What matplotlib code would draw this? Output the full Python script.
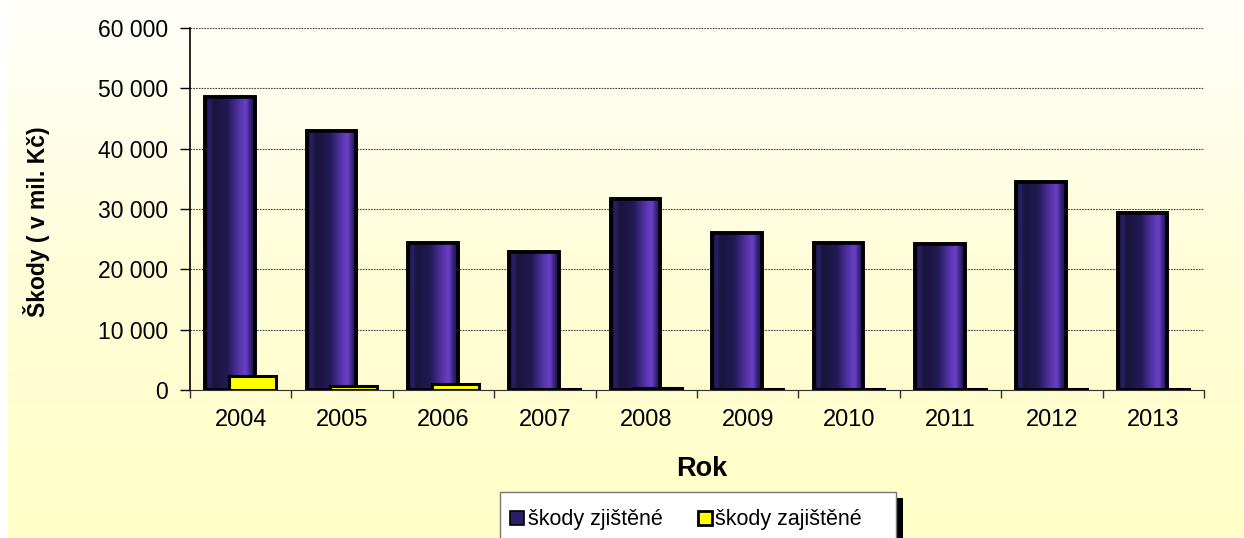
#!/usr/bin/env python3
"""Detected vs. secured damages per year (bar chart, Excel-like styling)."""

import matplotlib

matplotlib.use("Agg")
import matplotlib.pyplot as plt
import numpy as np
from matplotlib.colors import LinearSegmentedColormap
from matplotlib.patches import Rectangle
from matplotlib.ticker import FuncFormatter, MultipleLocator

YEARS = ["2004", "2005", "2006", "2007", "2008", "2009", "2010", "2011", "2012", "2013"]
SKODY_ZJISTENE = [48500, 43000, 24400, 22900, 31700, 26000, 24300, 24150, 34400, 29300]
SKODY_ZAJISTENE = [2300, 700, 1000, 200, 250, 200, 200, 180, 180, 200]
SERIES_LABELS = ["škody zjištěné", "škody zajištěné"]

plt.rcParams["font.family"] = ["Liberation Sans", "DejaVu Sans"]

W, H = 1244, 538
fig = plt.figure(figsize=(W / 100, H / 100), dpi=100)

# background gradient: white at top to pale yellow at bottom
bg = fig.add_axes([8 / W, 0, 1 - 8 / W, 1], zorder=-10)
grad = np.linspace(0, 1, 256).reshape(-1, 1)
bg_cmap = LinearSegmentedColormap.from_list("bg", ["#fffffa", "#fffdd8", "#ffffc6"])
bg.imshow(grad, aspect="auto", cmap=bg_cmap, extent=[0, 1, 0, 1], origin="upper")
bg.set_axis_off()

ax = fig.add_axes([190 / W, 1 - 390 / H, (1204 - 190) / W, (390 - 28) / H])
ax.set_facecolor("none")

x = np.arange(len(YEARS))
bars = ax.bar(x - 0.105, SKODY_ZJISTENE, width=0.49, color="#261c5c",
              edgecolor="black", linewidth=2.6, zorder=3)

bar_cmap = LinearSegmentedColormap.from_list(
    "bar",
    [(0.0, "#120c26"), (0.08, "#2a2068"), (0.18, "#1a143c"), (0.45, "#221a55"),
     (0.72, "#5a36b2"), (0.82, "#6a40c4"), (0.9, "#3a2585"), (1.0, "#160f36")],
)
hgrad = np.linspace(0, 1, 128).reshape(1, -1)
for bar in bars:
    x0, y0 = bar.get_x(), bar.get_y()
    w, h = bar.get_width(), bar.get_height()
    ax.imshow(hgrad, aspect="auto", cmap=bar_cmap, extent=[x0, x0 + w, y0, y0 + h],
              zorder=3.1, interpolation="bilinear")
    ax.add_patch(Rectangle((x0, y0), w, h, fill=False, edgecolor="black",
                           linewidth=2.6, zorder=3.2))

ax.bar(x + 0.116, SKODY_ZAJISTENE, width=0.465, color="#ffff00",
       edgecolor="black", linewidth=2.2, zorder=4)

ax.set_xlim(-0.5, len(YEARS) - 0.5)
ax.set_ylim(0, 60000)
ax.yaxis.set_major_locator(MultipleLocator(10000))
ax.yaxis.set_major_formatter(FuncFormatter(lambda v, _: f"{int(v):,}".replace(",", " ")))
ax.set_xticks(x, YEARS)
ax.set_xticks(np.arange(-0.5, len(YEARS)), minor=True)
ax.tick_params(axis="x", which="major", length=0, pad=14, labelsize=17)
ax.tick_params(axis="x", which="minor", length=6, width=1, color="#333333", direction="out")
ax.tick_params(axis="y", length=7, width=1, pad=9, labelsize=16.5, direction="out")

ax.grid(True, axis="y", color="#444444", linestyle=(0, (1.5, 1)), linewidth=0.8, zorder=0)
ax.spines["top"].set_visible(False)
ax.spines["right"].set_visible(False)
ax.spines["left"].set_linewidth(1.2)
ax.spines["bottom"].set_color("#333333")

fig.text(37 / W, 1 - 222 / H, "Škody ( v mil. Kč)", rotation=90, ha="center",
         va="center", fontsize=16.5, fontweight="bold")
fig.text(702 / W, 1 - 469 / H, "Rok", ha="center", va="center",
         fontsize=19.5, fontweight="bold")

# legend box with a black shadow on the right
fig.add_artist(Rectangle((896 / W, -0.02), 7 / W, 1 - 498 / H + 0.02,
                         transform=fig.transFigure, facecolor="black",
                         edgecolor="none", zorder=5))
fig.add_artist(Rectangle((500 / W, -0.02), 396 / W, 1 - 492 / H + 0.02,
                         transform=fig.transFigure, facecolor="white",
                         edgecolor="#777777", linewidth=1, zorder=6))

handles = [
    Rectangle((0, 0), 1, 1, facecolor="#2a1f66", edgecolor="black", linewidth=1.2),
    Rectangle((0, 0), 1, 1, facecolor="#ffff00", edgecolor="black", linewidth=2.0),
]
leg = fig.legend(handles, SERIES_LABELS, loc="center", ncol=2,
                 bbox_to_anchor=(686 / W, 1 - 520 / H), frameon=False,
                 fontsize=15.5, handlelength=0.65, handleheight=0.65,
                 handletextpad=0.15, columnspacing=1.65)
leg.set_zorder(7)

fig.savefig("out.png", dpi=100)
